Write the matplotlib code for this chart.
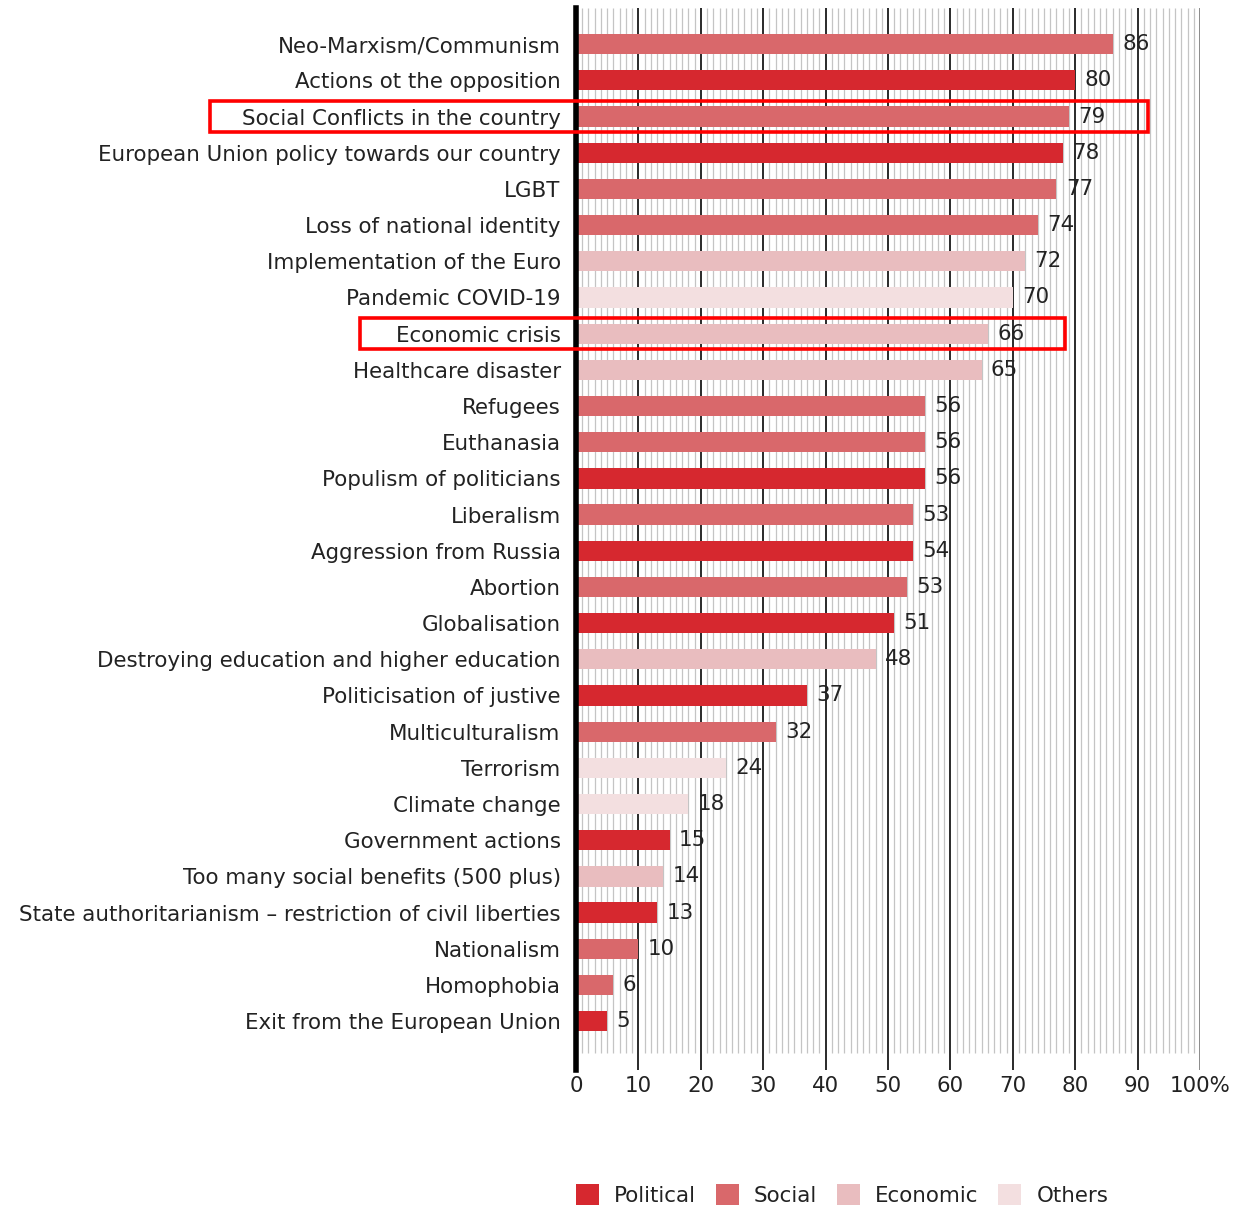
import matplotlib
matplotlib.use("Agg")
import matplotlib.pyplot as plt
from matplotlib.patches import Patch, Rectangle

categories = [
    "Neo-Marxism/Communism",
    "Actions ot the opposition",
    "Social Conflicts in the country",
    "European Union policy towards our country",
    "LGBT",
    "Loss of national identity",
    "Implementation of the Euro",
    "Pandemic COVID-19",
    "Economic crisis",
    "Healthcare disaster",
    "Refugees",
    "Euthanasia",
    "Populism of politicians",
    "Liberalism",
    "Aggression from Russia",
    "Abortion",
    "Globalisation",
    "Destroying education and higher education",
    "Politicisation of justive",
    "Multiculturalism",
    "Terrorism",
    "Climate change",
    "Government actions",
    "Too many social benefits (500 plus)",
    "State authoritarianism \u2013 restriction of civil liberties",
    "Nationalism",
    "Homophobia",
    "Exit from the European Union",
]
values = [86, 80, 79, 78, 77, 74, 72, 70, 66, 65, 56, 56, 56, 54, 54, 53, 51, 48,
          37, 32, 24, 18, 15, 14, 13, 10, 6, 5]
value_labels = ["86", "80", "79", "78", "77", "74", "72", "70", "66", "65", "56", "56",
                "56", "53", "54", "53", "51", "48", "37", "32", "24", "18", "15", "14",
                "13", "10", "6", "5"]
groups = ["Social", "Political", "Social", "Political", "Social", "Social", "Economic",
          "Others", "Economic", "Economic", "Social", "Social", "Political", "Social",
          "Political", "Social", "Political", "Economic", "Political", "Social",
          "Others", "Others", "Political", "Economic", "Political", "Social", "Social",
          "Political"]
group_names = ["Political", "Social", "Economic", "Others"]
highlighted = ["Social Conflicts in the country", "Economic crisis"]
x_ticks = [0, 10, 20, 30, 40, 50, 60, 70, 80, 90, 100]
x_ticklabels = ["0", "10", "20", "30", "40", "50", "60", "70", "80", "90", "100%"]

colors = {"Political": "#D6282F", "Social": "#D9686B", "Economic": "#E9BDBF", "Others": "#F3DFE0"}

plt.rcParams['font.family'] = ['DejaVu Sans']
text_color = "#222222"
fs = 15.4

fig = plt.figure(figsize=(12.39, 12.08), dpi=100)
W, H = 1239, 1208
left_px, right_px, top_px, bot_px = 576, 1200, 8, 1070
ax = fig.add_axes([left_px / W, 1 - bot_px / H, (right_px - left_px) / W, (bot_px - top_px) / H])

n = len(categories)
ypos = list(range(n))
ytop, ybot = -1.0, 28.35
ax.set_xlim(0, 100)
ax.set_ylim(ybot, ytop)

# minor grid lines every 1 unit
minor_x = [i for i in range(1, 100) if i % 10 != 0]
ax.vlines(minor_x, ytop, 27.88, colors="#c4c4c4", linewidth=0.9, zorder=0)
major_x = [i for i in range(10, 100, 10)]
ax.vlines(major_x, ytop, ybot, colors="#2a2a2a", linewidth=1.4, zorder=0.5)
ax.vlines([100], ytop, ybot, colors="#777777", linewidth=1.2, zorder=0.5)

bar_colors = [colors[g] for g in groups]
ax.barh(ypos, values, height=0.56, color=bar_colors, zorder=2)

for y, v, lab in zip(ypos, values, value_labels):
    ax.text(v + 1.5, y, lab, va="center", ha="left", fontsize=fs, color=text_color, zorder=3)

ax.set_yticks(ypos)
ax.set_yticklabels(categories, fontsize=fs, color=text_color)
ax.tick_params(axis="y", length=0, pad=11)
ax.set_xticks(x_ticks)
ax.set_xticklabels(x_ticklabels, fontsize=fs, color=text_color)
ax.tick_params(axis="x", length=0, pad=4)

for s in ["top", "right", "bottom"]:
    ax.spines[s].set_visible(False)
ax.spines["left"].set_linewidth(4)
ax.spines["left"].set_color("black")
ax.spines["left"].set_zorder(4)

# highlight boxes (figure pixel coordinates)
boxes = {
    "Social Conflicts in the country": (210, 1148),
    "Economic crisis": (360, 1065),
}
for name in highlighted:
    idx = categories.index(name)
    x0, x1 = boxes[name]
    yc_disp = ax.transData.transform((0, idx))[1]
    h = 31
    rect = Rectangle((x0 / W, (yc_disp - h / 2) / H), (x1 - x0) / W, h / H,
                     transform=fig.transFigure, fill=False, edgecolor="#FF0000",
                     linewidth=2.6, zorder=10)
    fig.patches.append(rect)

handles = [Patch(facecolor=colors[g], edgecolor="none", label=g) for g in group_names]
fig.legend(handles=handles, loc="center", bbox_to_anchor=(842 / W, 1 - 1195 / H),
           ncol=4, frameon=False, fontsize=fs, handlelength=1.1, handleheight=1.1,
           columnspacing=0.9, handletextpad=0.7, labelcolor=text_color)

fig.savefig("out.png", dpi=100)
